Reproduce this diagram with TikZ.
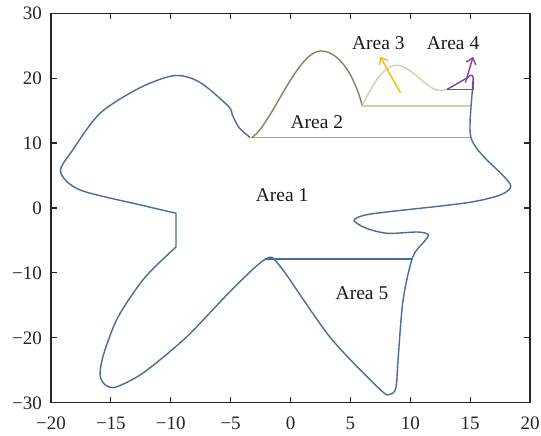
\documentclass[tikz,border=0pt]{standalone}
\usepackage{fontspec}
\setmainfont{Liberation Serif}
\usetikzlibrary{arrows.meta}
\definecolor{cblue}{HTML}{4B6B9B}
\definecolor{cbrown}{HTML}{8E7C66}
\definecolor{clbrown}{HTML}{AE9E8A}
\definecolor{ckhaki}{HTML}{D0D0AC}
\definecolor{corange}{HTML}{F7B51C}
\definecolor{cpurple}{HTML}{8A3DA5}
\tikzset{
  axisline/.style={line width=1.3pt, black!85},
  tickmark/.style={line width=1.2pt, black!85},
  ticklab/.style={font=\fontsize{19}{19}\selectfont, text=black!85, inner sep=0pt},
  arealab/.style={font=\fontsize{19.5}{20}\selectfont, text=black!90, inner sep=0pt},
  curve/.style={line width=1.4pt, line join=round, line cap=round},
  quiv/.style={line width=1.4pt, -{Straight Barb[length=6pt, width=10pt, line width=1.4pt]}}
}
\begin{document}
\begin{tikzpicture}[x=1pt,y=1pt]
\useasboundingbox (0,0) rectangle (541,436);
\begin{scope}[shift={(290.5pt,228pt)}, x=11.975pt, y=6.49pt]
  % Area 1 outline
  \draw[curve, cblue] plot[smooth, tension=0.5] coordinates {
    (-3.4,10.9) (-4.3,12.4) (-4.85,14.3) (-5.2,15.7) (-7.6,19.4)
    (-9.7,20.4) (-12.6,18.5) (-15.9,14.6) (-18.2,8.9)
    (-19.2,5.6) (-17.6,2.8) (-12.6,0.5) (-9.56,-0.8)}
    -- (-9.56,-6.0)
    -- plot[smooth, tension=0.5] coordinates {
    (-9.56,-6.0) (-12.2,-10.8) (-14.4,-16.8) (-15.6,-22.5)
    (-15.9,-25.7) (-15.5,-27.2) (-14.6,-27.6)
    (-12.3,-25.4) (-8.7,-19.9) (-4.9,-12.6) (-2.1,-7.9)
    (-0.9,-8.9) (3.3,-19.9) (7.5,-28.0) (8.3,-28.7)
    (8.8,-27.7) (9.0,-22.9) (9.4,-14.2) (10.2,-7.6) (11.2,-5.1) (11.5,-4.1)
    (10.6,-3.7) (8.1,-3.9) (6.3,-3.1) (5.3,-1.9) (6.2,-1.1)
    (8.1,-0.6) (14.7,0.8) (17.5,2.0) (18.4,3.3) (17.7,5.1) (16.4,7.4)
    (15.5,9.3) (15.05,11.0) (15.0,13.6) (15.2,18.5) (15.2,19.4)};
  % Area 5 top line
  \draw[curve, cblue] (-2.1,-7.85) -- (10.15,-7.85);
  % Area 2
  \draw[curve, clbrown] (-3.3,10.9) -- (14.95,10.9);
  \draw[curve, cbrown] (-3.2,10.9) .. controls (-1.6,12.8) and (0.6,24.4) .. (2.6,24.2)
     .. controls (4.2,24.0) and (5.4,20.0) .. (6.0,15.7);
  % Area 3
  \draw[curve, ckhaki] (6.0,15.7) -- (14.95,15.7);
  \draw[curve, ckhaki] (6.0,15.7) .. controls (6.9,19.4) and (7.9,22.1) .. (8.9,22.0)
     .. controls (10.1,21.9) and (11.5,18.0) .. (12.5,18.1)
     .. controls (12.8,18.1) and (13.0,18.3) .. (13.1,18.3);
  % Area 4
  \draw[curve, cpurple] (13.1,18.3) -- (15.25,18.3);
  \draw[curve, cpurple] (13.1,18.3) -- (14.8,20.1)
     .. controls (15.1,20.7) and (15.3,20.6) .. (15.25,19.7) -- (15.25,18.3);
  % quivers
  \coordinate (o3) at (9.2,17.7);
  \coordinate (t3) at (7.5,23.3);
  \coordinate (o4) at (14.6,19.3);
  \coordinate (t4) at (15.25,23.3);
  \draw[quiv, corange] (o3) -- (t3);
  \draw[quiv, cpurple] (o4) -- (t4);
  % labels
  \node[arealab] (a1) at (-0.7,2.05) {Area 1};
  \node[arealab] (a2) at (2.2,13.3) {Area 2};
  \node[arealab] (a3) at (7.33,25.4) {Area 3};
  \node[arealab] (a4) at (13.57,25.4) {Area 4};
  \node[arealab] (a5) at (5.97,-13.1) {Area 5};
  % axes
  \draw[axisline] (-20,-30) rectangle (20,30);
  \foreach \x/\t [count=\i] in {-20/−20,-15/−15,-10/−10,-5/−5,0/0,5/5,10/10,15/15,20/20} {
    \draw[tickmark] (\x,-30) -- ++(0,6pt);
    \draw[tickmark] (\x,30) -- ++(0,-6pt);
    \node[ticklab, anchor=base] (xl\i) at ([yshift=-27pt]\x,-30) {\t};
  }
  \foreach \y/\t [count=\i] in {-30/−30,-20/−20,-10/−10,0/0,10/10,20/20,30/30} {
    \draw[tickmark] (-20,\y) -- ++(6pt,0);
    \draw[tickmark] (20,\y) -- ++(-6pt,0);
    \node[ticklab, anchor=base east] (yl\i) at ([xshift=-9pt,yshift=-6.5pt]-20,\y) {\t};
  }
\end{scope}
\end{tikzpicture}
\end{document}
